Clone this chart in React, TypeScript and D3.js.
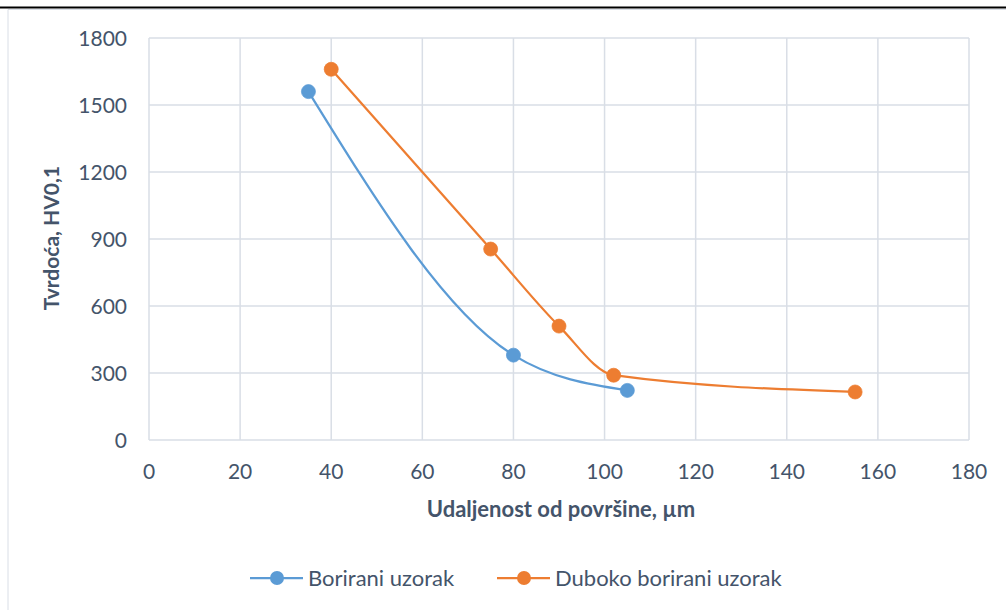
import { useEffect, useRef } from "react";
import * as d3 from "d3";

const BORIRANI_X = [35, 80, 105];
const BORIRANI_Y = [1560, 380, 222];
const DUBOKO_X = [40, 75, 90, 102, 155];
const DUBOKO_Y = [1660, 855, 510, 290, 215];
const X_TICKS = [0, 20, 40, 60, 80, 100, 120, 140, 160, 180];
const Y_TICKS = [0, 300, 600, 900, 1200, 1500, 1800];
const SERIES_NAMES = ["Borirani uzorak", "Duboko borirani uzorak"];

const WIDTH = 1006;
const HEIGHT = 610;
const FONT = "Lato, 'Open Sans', sans-serif";
const TEXT = "#44546a";
const GRID = "#d9dee6";
const COLORS = ["#5b9bd5", "#ed7d31"];

export default function App() {
  const ref = useRef<SVGSVGElement | null>(null);

  useEffect(() => {
    if (!ref.current) return;
    const svg = d3.select(ref.current);
    svg.selectAll("*").remove();

    const plot = { left: 149, right: 969, top: 38, bottom: 440 };

    const x = d3.scaleLinear().domain([0, 180]).range([plot.left, plot.right]);
    const y = d3.scaleLinear().domain([0, 1800]).range([plot.bottom, plot.top]);

    svg.append("rect").attr("width", WIDTH).attr("height", HEIGHT).attr("fill", "#fff");

    // frame
    svg.append("line").attr("x1", 0).attr("x2", WIDTH).attr("y1", 7.5).attr("y2", 7.5)
      .attr("stroke", "#000").attr("stroke-width", 2);
    svg.append("path").attr("d", `M8,${HEIGHT} V9.5 H${WIDTH}`)
      .attr("fill", "none").attr("stroke", GRID).attr("stroke-width", 1);

    // grid
    const grid = svg.append("g");
    grid.selectAll("line.h").data(Y_TICKS).enter().append("line")
      .attr("x1", plot.left).attr("x2", plot.right)
      .attr("y1", (d) => y(d)).attr("y2", (d) => y(d))
      .attr("stroke", GRID).attr("stroke-width", 1.5);
    grid.selectAll("line.v").data(X_TICKS).enter().append("line")
      .attr("y1", plot.top).attr("y2", plot.bottom)
      .attr("x1", (d) => x(d)).attr("x2", (d) => x(d))
      .attr("stroke", GRID).attr("stroke-width", 1.5);

    // tick labels
    svg.append("g").selectAll("text").data(Y_TICKS).enter().append("text")
      .text((d) => d)
      .attr("x", plot.left - 22).attr("y", (d) => y(d) + 7.5)
      .attr("text-anchor", "end")
      .attr("font-family", FONT).attr("font-size", 21).attr("fill", TEXT);
    svg.append("g").selectAll("text").data(X_TICKS).enter().append("text")
      .text((d) => d)
      .attr("x", (d) => x(d)).attr("y", plot.bottom + 39)
      .attr("text-anchor", "middle")
      .attr("font-family", FONT).attr("font-size", 21).attr("fill", TEXT);

    // axis titles
    svg.append("text").text("Udaljenost od površine, µm")
      .attr("x", 561).attr("y", 517)
      .attr("text-anchor", "middle").attr("font-weight", "bold")
      .attr("font-family", FONT).attr("font-size", 22).attr("fill", TEXT);
    svg.append("text").text("Tvrdoća, HV0,1")
      .attr("transform", `translate(59,238) rotate(-90)`)
      .attr("text-anchor", "middle").attr("font-weight", "bold")
      .attr("font-family", FONT).attr("font-size", 21).attr("fill", TEXT);

    const series = [
      BORIRANI_X.map((v, i) => [v, BORIRANI_Y[i]] as [number, number]),
      DUBOKO_X.map((v, i) => [v, DUBOKO_Y[i]] as [number, number]),
    ];

    const line = d3.line<[number, number]>()
      .x((d) => x(d[0])).y((d) => y(d[1]))
      .curve(d3.curveMonotoneX);

    series.forEach((pts, i) => {
      const g = svg.append("g");
      g.append("path").attr("d", line(pts)).attr("fill", "none")
        .attr("stroke", COLORS[i]).attr("stroke-width", 2.25);
      g.selectAll("circle").data(pts).enter().append("circle")
        .attr("cx", (d) => x(d[0])).attr("cy", (d) => y(d[1])).attr("r", 7)
        .attr("fill", COLORS[i]).attr("stroke", COLORS[i]).attr("stroke-width", 0.75);
    });

    // legend
    const legendX = [250, 497];
    const legendY = 578;
    SERIES_NAMES.forEach((name, i) => {
      const g = svg.append("g").attr("transform", `translate(${legendX[i]},${legendY})`);
      g.append("line").attr("x1", 0).attr("x2", 53).attr("y1", 0).attr("y2", 0)
        .attr("stroke", COLORS[i]).attr("stroke-width", 2.25);
      g.append("circle").attr("cx", 27).attr("cy", 0).attr("r", 7).attr("fill", COLORS[i]);
      g.append("text").text(name).attr("x", 58).attr("y", 8)
        .attr("font-family", FONT).attr("font-size", 22).attr("fill", TEXT);
    });
  }, []);

  return (
    <svg
      ref={ref}
      width={WIDTH}
      height={HEIGHT}
      style={{ position: "absolute", left: 0, top: 0, display: "block" }}
    />
  );
}
